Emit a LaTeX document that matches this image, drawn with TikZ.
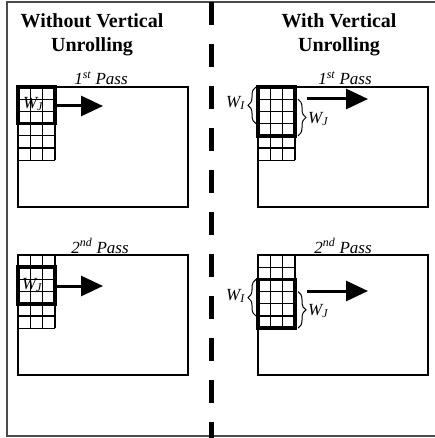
\documentclass[tikz,border=0pt]{standalone}
\usepackage{fontspec}
\setmainfont{Liberation Serif}
\usetikzlibrary{arrows.meta,decorations.pathreplacing}

% looks shared by both panels
\tikzset{
  ttl/.style={font=\fontsize{20}{24}\selectfont\bfseries,align=center},
  passlbl/.style={font=\fontsize{17}{20}\selectfont\itshape,anchor=base,inner sep=0pt},
  winlbl/.style={font=\fontsize{17}{20}\selectfont\itshape,inner sep=0pt},
  panel/.style={line width=1.6pt},
  gridline/.style={line width=1.3pt},
  winbox/.style={line width=3.5pt},
  bigarrow/.style={line width=3pt,-{Triangle[length=22pt,width=20pt]}},
  wbrace/.style={decorate,decoration={brace,amplitude=8pt},line width=1pt},
}
% 3 x 6 cells, top left corner at (#1,#2)
\newcommand{\pixgrid}[2]{%
  \foreach \i in {0,...,3} \draw[gridline] ({#1+12.33*\i},#2) -- ++(0,73.2);
  \foreach \j in {0,...,6} \draw[gridline] (#1,{#2+12.2*\j}) -- ++(37,0);}

\begin{document}
\begin{tikzpicture}[x=1pt,y=-1pt]
\useasboundingbox (0,0) rectangle (435,438);
\draw[panel,gray!60!black] (7,2) rectangle (438,436);
\draw[line width=5pt,dash pattern=on 23pt off 19pt,dash phase=40pt] (211,0) -- (211,438);

\node[ttl] (ttlA) at (92,35) {Without Vertical\\Unrolling};
\node[ttl] (ttlB) at (339,35) {With Vertical\\Unrolling};

% without unrolling
\draw[panel] (18,87) rectangle (188,207);
\draw[panel] (18,255) rectangle (188,375);
\node[passlbl] (passA1) at (101,85) {1\textsuperscript{st} Pass};
\node[passlbl] (passA2) at (100,253) {2\textsuperscript{nd} Pass};
\pixgrid{18}{87}
\pixgrid{18}{255}
\draw[winbox] (18,87) rectangle (55,123.6);
\draw[winbox] (18,267.2) rectangle (55,303.8);
\node[winlbl] (wA1) at (33,104) {W\textsubscript{J}};
\node[winlbl] (wA2) at (32,285) {W\textsubscript{J}};
\coordinate (arA1s) at (55,106); \coordinate (arA1e) at (103,106);
\coordinate (arA2s) at (55,286); \coordinate (arA2e) at (103,286);
\draw[bigarrow] (arA1s) -- (arA1e);
\draw[bigarrow] (arA2s) -- (arA2e);

% with unrolling
\draw[panel] (258,87) rectangle (428,207);
\draw[panel] (258,255) rectangle (428,375);
\node[passlbl] (passB1) at (345,85) {1\textsuperscript{st} Pass};
\node[passlbl] (passB2) at (343,253) {2\textsuperscript{nd} Pass};
\pixgrid{258}{87}
\pixgrid{258}{255}
\draw[winbox] (258,87) rectangle (295,135.8);
\draw[winbox] (258,279.4) rectangle (295,328.2);
\draw[wbrace] (256,123.6) -- (256,87);
\draw[wbrace] (298,99.2) -- (298,135.8);
\draw[wbrace] (256,316) -- (256,279.4);
\draw[wbrace] (298,291.6) -- (298,328.2);
\node[winlbl,anchor=east] (wB1) at (245,103) {W\textsubscript{I}};
\node[winlbl,anchor=west] (wB2) at (308,119) {W\textsubscript{J}};
\node[winlbl,anchor=east] (wB3) at (245,296) {W\textsubscript{I}};
\node[winlbl,anchor=west] (wB4) at (308,311) {W\textsubscript{J}};
\coordinate (arB1s) at (307,99); \coordinate (arB1e) at (368,99);
\coordinate (arB2s) at (307,291); \coordinate (arB2e) at (368,291);
\draw[bigarrow] (arB1s) -- (arB1e);
\draw[bigarrow] (arB2s) -- (arB2e);
\end{tikzpicture}
\end{document}
